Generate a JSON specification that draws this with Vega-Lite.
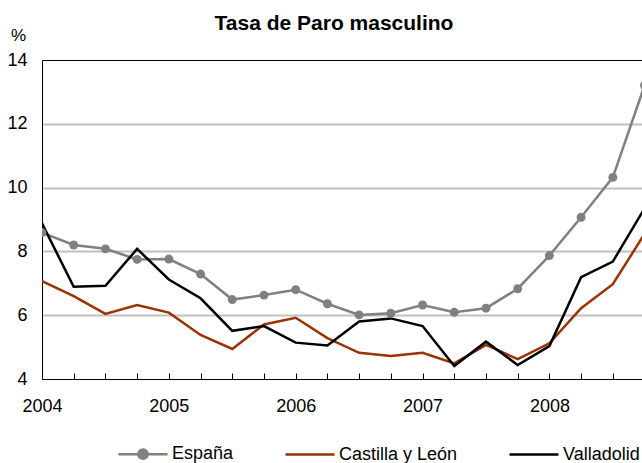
{
  "$schema": "https://vega.github.io/schema/vega-lite/v6.json",
  "autosize": {"type": "none"},
  "padding": {"left": 42, "top": 60, "right": 0, "bottom": 84},
  "width": 600,
  "height": 319,
  "title": {"text": "Tasa de Paro masculino", "frame": "group", "anchor": "middle", "dx": -8, "dy": 25, "offset": 0, "baseline": "alphabetic", "fontSize": 21, "fontWeight": "bold", "font": "Liberation Sans", "color": "#000000"},
  "config": {
    "font": "Liberation Sans",
    "view": {"stroke": null},
    "axis": {"labelFont": "Liberation Sans", "labelColor": "#000000", "domainColor": "#000000", "domainWidth": 1, "tickColor": "#000000"}
  },
  "data": {
    "values": [
      {"t": 2004.0, "serie": "España", "v": 8.59},
      {"t": 2004.25, "serie": "España", "v": 8.2},
      {"t": 2004.5, "serie": "España", "v": 8.08},
      {"t": 2004.75, "serie": "España", "v": 7.75},
      {"t": 2005.0, "serie": "España", "v": 7.76},
      {"t": 2005.25, "serie": "España", "v": 7.29},
      {"t": 2005.5, "serie": "España", "v": 6.49},
      {"t": 2005.75, "serie": "España", "v": 6.63},
      {"t": 2006.0, "serie": "España", "v": 6.8},
      {"t": 2006.25, "serie": "España", "v": 6.36},
      {"t": 2006.5, "serie": "España", "v": 6.01},
      {"t": 2006.75, "serie": "España", "v": 6.06},
      {"t": 2007.0, "serie": "España", "v": 6.32},
      {"t": 2007.25, "serie": "España", "v": 6.09},
      {"t": 2007.5, "serie": "España", "v": 6.22},
      {"t": 2007.75, "serie": "España", "v": 6.83},
      {"t": 2008.0, "serie": "España", "v": 7.87},
      {"t": 2008.25, "serie": "España", "v": 9.07},
      {"t": 2008.5, "serie": "España", "v": 10.32},
      {"t": 2008.75, "serie": "España", "v": 13.2},
      {"t": 2004.0, "serie": "Castilla y León", "v": 7.07},
      {"t": 2004.25, "serie": "Castilla y León", "v": 6.6},
      {"t": 2004.5, "serie": "Castilla y León", "v": 6.04},
      {"t": 2004.75, "serie": "Castilla y León", "v": 6.32},
      {"t": 2005.0, "serie": "Castilla y León", "v": 6.08},
      {"t": 2005.25, "serie": "Castilla y León", "v": 5.38},
      {"t": 2005.5, "serie": "Castilla y León", "v": 4.94},
      {"t": 2005.75, "serie": "Castilla y León", "v": 5.71},
      {"t": 2006.0, "serie": "Castilla y León", "v": 5.92},
      {"t": 2006.25, "serie": "Castilla y León", "v": 5.28},
      {"t": 2006.5, "serie": "Castilla y León", "v": 4.82},
      {"t": 2006.75, "serie": "Castilla y León", "v": 4.72},
      {"t": 2007.0, "serie": "Castilla y León", "v": 4.82},
      {"t": 2007.25, "serie": "Castilla y León", "v": 4.49},
      {"t": 2007.5, "serie": "Castilla y León", "v": 5.07},
      {"t": 2007.75, "serie": "Castilla y León", "v": 4.62},
      {"t": 2008.0, "serie": "Castilla y León", "v": 5.12},
      {"t": 2008.25, "serie": "Castilla y León", "v": 6.22},
      {"t": 2008.5, "serie": "Castilla y León", "v": 6.97},
      {"t": 2008.75, "serie": "Castilla y León", "v": 8.55},
      {"t": 2004.0, "serie": "Valladolid", "v": 8.88},
      {"t": 2004.25, "serie": "Valladolid", "v": 6.89},
      {"t": 2004.5, "serie": "Valladolid", "v": 6.92},
      {"t": 2004.75, "serie": "Valladolid", "v": 8.08},
      {"t": 2005.0, "serie": "Valladolid", "v": 7.12},
      {"t": 2005.25, "serie": "Valladolid", "v": 6.53},
      {"t": 2005.5, "serie": "Valladolid", "v": 5.51},
      {"t": 2005.75, "serie": "Valladolid", "v": 5.66},
      {"t": 2006.0, "serie": "Valladolid", "v": 5.14},
      {"t": 2006.25, "serie": "Valladolid", "v": 5.05},
      {"t": 2006.5, "serie": "Valladolid", "v": 5.8},
      {"t": 2006.75, "serie": "Valladolid", "v": 5.9},
      {"t": 2007.0, "serie": "Valladolid", "v": 5.66},
      {"t": 2007.25, "serie": "Valladolid", "v": 4.41},
      {"t": 2007.5, "serie": "Valladolid", "v": 5.17},
      {"t": 2007.75, "serie": "Valladolid", "v": 4.44},
      {"t": 2008.0, "serie": "Valladolid", "v": 5.03},
      {"t": 2008.25, "serie": "Valladolid", "v": 7.19},
      {"t": 2008.5, "serie": "Valladolid", "v": 7.68},
      {"t": 2008.75, "serie": "Valladolid", "v": 9.35}
    ]
  },
  "encoding": {
    "x": {
      "field": "t", "type": "quantitative",
      "scale": {"domain": [2004, 2008.73], "nice": false, "zero": false},
      "axis": {
        "title": null,
        "values": [2004, 2004.25, 2004.5, 2004.75, 2005, 2005.25, 2005.5, 2005.75, 2006, 2006.25, 2006.5, 2006.75, 2007, 2007.25, 2007.5, 2007.75, 2008, 2008.25, 2008.5],
        "labelExpr": "datum.value % 1 == 0 ? format(datum.value, 'd') : ''",
        "labelFlush": false,
        "labelOverlap": false,
        "labelFontSize": 18,
        "labelPadding": 24,
        "tickSize": -6,
        "ticks": true,
        "grid": false
      }
    },
    "y": {
      "field": "v", "type": "quantitative",
      "scale": {"domain": [4, 14], "nice": false, "zero": false},
      "axis": {
        "title": "%",
        "titleAngle": 0,
        "titleX": -24,
        "titleY": -25,
        "titleAlign": "center",
        "titleBaseline": "middle",
        "titleFontWeight": "normal",
        "titleFontSize": 17,
        "titleColor": "#000000",
        "values": [4, 6, 8, 10, 12, 14],
        "labelFontSize": 18,
        "labelPadding": 15,
        "ticks": false,
        "grid": true,
        "gridColor": {"condition": {"test": "datum.value == 14", "value": "#000000"}, "value": "#c0c0c0"},
        "gridWidth": {"condition": {"test": "datum.value == 14", "value": 1}, "value": 2},
        "gridOpacity": {"condition": {"test": "datum.value == 4", "value": 0}, "value": 1}
      }
    }
  },
  "layer": [
    {
      "mark": {"type": "line", "strokeWidth": 2.5, "clip": true},
      "encoding": {
        "color": {
          "field": "serie", "type": "nominal",
          "scale": {"domain": ["España", "Castilla y León", "Valladolid"], "range": ["#808080", "#993300", "#000000"]},
          "legend": {
            "title": null,
            "orient": "none",
            "direction": "horizontal",
            "legendX": 75,
            "legendY": 368,
            "padding": 0,
            "columnPadding": 46,
            "labelFontSize": 18,
            "labelFont": "Liberation Sans",
            "labelColor": "#000000",
            "labelOffset": 3,
            "symbolSize": 2401,
            "symbolStrokeWidth": 2.5,
            "symbolType": "M-1,0H1",
            "encode": {
              "symbols": {
                "update": {
                  "shape": {"signal": "datum.value == 'España' ? 'M-1,0H1M-0.19,0A0.19,0.19,0,1,1,0.19,0A0.19,0.19,0,1,1,-0.19,0Z' : 'M-1,0H1'"},
                  "fill": {"value": "#808080"},
                  "fillOpacity": {"value": 1}
                }
              }
            }
          }
        }
      }
    },
    {
      "transform": [{"filter": "datum.serie == 'España'"}],
      "mark": {"type": "point", "filled": true, "size": 80, "opacity": 1, "color": "#808080", "clip": true}
    }
  ]
}
